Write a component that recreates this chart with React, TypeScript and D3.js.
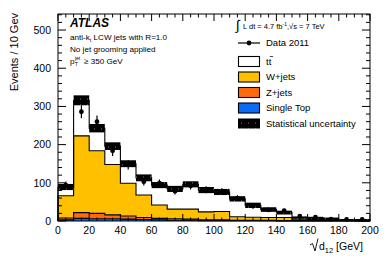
import React from "react";
import * as d3 from "d3";

// bin lower edges (GeV), bin width 10
const binLow = [0, 10, 20, 30, 40, 50, 60, 70, 80, 90, 100, 110, 120, 130, 140, 150, 160, 170, 180, 190];
const binWidth = 10;

// stacked components (events / 10 GeV)
const singleTop = [3, 7, 6, 6, 5, 4, 3, 2, 2, 1, 1, 1, 1, 1, 0, 0, 0, 0, 0, 0];
const zJets = [5, 15, 14, 10, 8, 5, 4, 4, 3, 2, 2, 1, 1, 1, 1, 1, 1, 1, 1, 0];
const wJets = [58, 201, 164, 132, 86, 59, 35, 25, 26, 21, 22, 9, 8, 7, 8, 4, 3, 3, 1, 1];
const ttbar = [23, 93, 59, 48, 51, 45, 52, 53, 65, 57, 51, 47, 31, 21, 13, 4, 4, 2, 1, 2];
const statUnc = [8, 13, 11, 10, 9, 9, 8, 8, 8, 8, 8, 7, 7, 6, 5, 3, 3, 3, 2, 2];

// data 2011
const dataVals = [94, 286, 260, 184, 147, 103, 99, 78, 92, 82, 77, 60, 39, 29, 27, 13, 10, 5, 4, 4];

const yMajorTicks = [0, 100, 200, 300, 400, 500];
const xMajorTicks = [0, 20, 40, 60, 80, 100, 120, 140, 160, 180, 200];

const W = 390, H = 265;
const left = 58, right = 370, top = 14, bottom = 221;

const colors: Record<string, string> = {
  singleTop: "#0a6cf5",
  zJets: "#ff6a0d",
  wJets: "#ffc000",
  ttbar: "#ffffff",
};

export default function App() {
  const x = d3.scaleLinear().domain([0, 200]).range([left, right]);
  const y = d3.scaleLinear().domain([0, 542]).range([bottom, top]);

  const table = binLow.map((b, i) => ({
    low: b,
    singleTop: singleTop[i],
    zJets: zJets[i],
    wJets: wJets[i],
    ttbar: ttbar[i],
  }));
  const keys = ["singleTop", "zJets", "wJets", "ttbar"];
  const series = d3.stack<any>().keys(keys)(table);

  const stepPts = (s: any) => {
    const pts = s.map((d: any, i: number) => ({ x: binLow[i], y0: d[0], y1: d[1] }));
    const last = pts[pts.length - 1];
    pts.push({ x: binLow[binLow.length - 1] + binWidth, y0: last.y0, y1: last.y1 });
    return pts;
  };
  const area = d3
    .area<any>()
    .x((d) => x(d.x))
    .y0((d) => y(d.y0))
    .y1((d) => y(d.y1))
    .curve(d3.curveStepAfter);
  const line = d3
    .line<any>()
    .x((d) => x(d.x))
    .y((d) => y(d.y1))
    .curve(d3.curveStepAfter);

  const totals = table.map((d) => d.singleTop + d.zJets + d.wJets + d.ttbar);

  const yMinor = d3.range(0, 541, 20);
  const xMinor = d3.range(0, 201, 5);

  const font = "'Liberation Sans', Arial, Helvetica, sans-serif";

  const legendX = 238;
  const legendRows = [
    { label: "Data 2011", type: "data", y: 43 },
    { label: "tt", type: "tt", y: 61.5 },
    { label: "W+jets", type: "wJets", y: 77 },
    { label: "Z+jets", type: "zJets", y: 92.5 },
    { label: "Single Top", type: "singleTop", y: 108 },
    { label: "Statistical uncertainty", type: "unc", y: 123.5 },
  ];

  return (
    <svg
      width={W}
      height={H}
      style={{ position: "absolute", left: 0, top: 0, background: "#fff" }}
      fontFamily={font}
    >
      <defs>
        <pattern id="hatch" width="7" height="6" patternUnits="userSpaceOnUse">
          <rect width="7" height="6" fill="#000" />
          <rect x="3" y="2" width="1" height="2" fill="#fff" opacity="0.25" />
        </pattern>
      </defs>
      <rect x={0} y={0} width={W} height={H} fill="#fff" />

      {/* stacked fills */}
      {series.map((s) => (
        <path key={"f" + s.key} d={area(stepPts(s)) || ""} fill={colors[s.key]} stroke="none" />
      ))}
      {/* outlines */}
      {series.map((s) => {
        const pts = stepPts(s);
        const first = pts[0];
        const last = pts[pts.length - 1];
        return (
          <g key={"l" + s.key}>
            <path d={line(pts) || ""} fill="none" stroke="#000" strokeWidth={1.1} />
            <line x1={x(first.x)} x2={x(first.x)} y1={y(0)} y2={y(first.y1)} stroke="#000" strokeWidth={1.1} />
            <line x1={x(last.x)} x2={x(last.x)} y1={y(0)} y2={y(last.y1)} stroke="#000" strokeWidth={1.1} />
          </g>
        );
      })}

      {/* statistical uncertainty band */}
      {binLow.map((b, i) => (
        <rect
          key={"u" + i}
          x={x(b)}
          width={x(b + binWidth) - x(b)}
          y={y(totals[i] + statUnc[i])}
          height={y(totals[i] - statUnc[i]) - y(totals[i] + statUnc[i])}
          fill="url(#hatch)"
        />
      ))}

      {/* data */}
      {binLow.map((b, i) => {
        const cx = x(b + binWidth / 2);
        const e = Math.sqrt(dataVals[i]);
        return (
          <g key={"d" + i}>
            <line
              x1={cx}
              x2={cx}
              y1={y(dataVals[i] + e)}
              y2={y(Math.max(0, dataVals[i] - e))}
              stroke="#000"
              strokeWidth={1.2}
            />
            <circle cx={cx} cy={y(dataVals[i])} r={2.4} fill="#000" />
          </g>
        );
      })}

      {/* frame */}
      <rect x={left} y={top} width={right - left} height={bottom - top} fill="none" stroke="#000" strokeWidth={1} />

      {/* y ticks */}
      {yMinor.map((v) => {
        const major = v % 100 === 0;
        const len = major ? 8 : 4;
        return (
          <g key={"yt" + v}>
            <line x1={left} x2={left + len} y1={y(v)} y2={y(v)} stroke="#000" />
            <line x1={right} x2={right - len} y1={y(v)} y2={y(v)} stroke="#000" />
          </g>
        );
      })}
      {yMajorTicks.map((v) => (
        <text key={"yl" + v} x={51} y={y(v) + 3.8} textAnchor="end" fontSize={10.5}>
          {v}
        </text>
      ))}

      {/* x ticks */}
      {xMinor.map((v) => {
        const major = v % 20 === 0;
        const len = major ? 7 : 3.5;
        return (
          <g key={"xt" + v}>
            <line x1={x(v)} x2={x(v)} y1={bottom} y2={bottom - len} stroke="#000" />
            <line x1={x(v)} x2={x(v)} y1={top} y2={top + len} stroke="#000" />
          </g>
        );
      })}
      {xMajorTicks.map((v) => (
        <text key={"xl" + v} x={x(v)} y={234} textAnchor="middle" fontSize={10.5}>
          {v}
        </text>
      ))}

      {/* axis titles */}
      <text transform="rotate(-90)" x={-13} y={18} textAnchor="end" fontSize={11}>
        Events / 10 Gev
      </text>
      <path d="M310,245 L312.5,243.5 L315,251 L318,238.5" fill="none" stroke="#000" strokeWidth={0.9} />
      <text x={319} y={250} fontSize={10.5}>
        d
        <tspan fontSize={7.5} dy={2.5}>12</tspan>
        <tspan dy={-2.5}> [GeV]</tspan>
      </text>

      {/* ATLAS labels */}
      <text x={70} y={27} fontSize={12} fontWeight="bold" fontStyle="italic">
        ATLAS
      </text>
      <text x={70} y={40} fontSize={8.1}>
        anti-k<tspan fontSize={5.5} dy={1.8}>t</tspan>
        <tspan dy={-1.8}> LCW jets with R=1.0</tspan>
      </text>
      <text x={70} y={51.5} fontSize={8.1}>
        No jet grooming applied
      </text>
      <text x={70} y={64} fontSize={8.1}>p</text>
      <text x={74.8} y={60} fontSize={5.2}>jet</text>
      <text x={74.8} y={66} fontSize={5.2}>T</text>
      <text x={84} y={64} fontSize={8.1}>
        ≥ 350 GeV
      </text>

      {/* luminosity */}
      <text x={236} y={30} fontSize={14} fontWeight="300">
        ∫
      </text>
      <text x={243} y={28.5} fontSize={7.5}>
        L dt = 4.7 fb<tspan fontSize={5} dy={-3}>-1</tspan>
        <tspan dy={3}>,</tspan>
        <tspan>√s = 7 TeV</tspan>
      </text>

      {/* legend */}
      {legendRows.map((r) => {
        const bx = legendX, bw = 22, bh = 10;
        let sym: React.ReactNode = null;
        if (r.type === "data") {
          sym = (
            <g>
              <line x1={bx} x2={bx + bw} y1={r.y} y2={r.y} stroke="#000" strokeWidth={1.2} />
              <circle cx={bx + bw / 2} cy={r.y} r={2.4} fill="#000" />
            </g>
          );
        } else if (r.type === "unc") {
          sym = <rect x={bx} y={r.y - bh / 2} width={bw} height={bh} fill="url(#hatch)" />;
        } else {
          const c = r.type === "tt" ? colors.ttbar : colors[r.type];
          sym = (
            <rect x={bx + 0.5} y={r.y - bh / 2} width={bw - 1} height={bh} fill={c} stroke="#000" strokeWidth={1.1} />
          );
        }
        return (
          <g key={r.label}>
            {sym}
            {r.type === "tt" ? (
              <g>
                <text x={266} y={r.y + 3.4} fontSize={9.5}>
                  tt
                </text>
                <line x1={269.8} x2={273} y1={r.y - 5} y2={r.y - 5} stroke="#000" strokeWidth={0.7} />
              </g>
            ) : (
              <text x={266} y={r.y + 3.4} fontSize={9.5}>
                {r.label}
              </text>
            )}
          </g>
        );
      })}
    </svg>
  );
}
